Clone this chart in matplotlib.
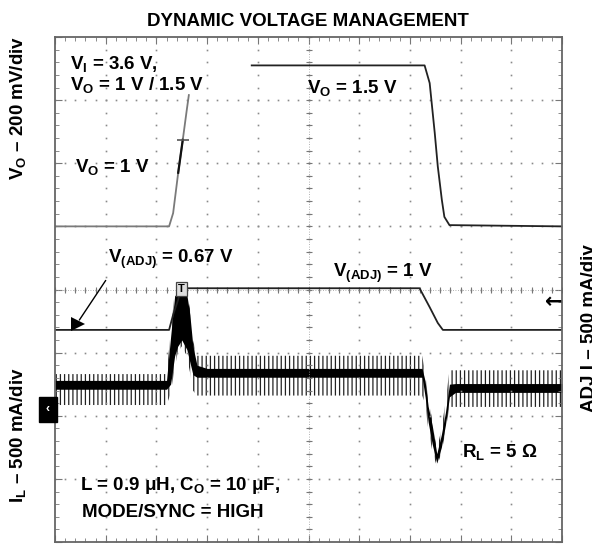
import numpy as np
import matplotlib
matplotlib.use("Agg")
import matplotlib.pyplot as plt

plt.rcParams["font.family"] = ["Liberation Sans", "DejaVu Sans"]
plt.rcParams["font.weight"] = "bold"
plt.rcParams["mathtext.fontset"] = "custom"
plt.rcParams["mathtext.rm"] = "Liberation Sans:bold"
plt.rcParams["mathtext.it"] = "Liberation Sans:bold"
plt.rcParams["mathtext.bf"] = "Liberation Sans:bold"
plt.rcParams["mathtext.default"] = "rm"
plt.rcParams["hatch.linewidth"] = 0.9

# scope traces, in screen divisions (x: 10 div, y: 8 div)
# V_O rising edge (fast part is not captured at the top)
vo_rise_t = [0.00, 2.25, 2.33, 2.43, 2.52, 2.60, 2.64]
vo_rise_v = [5.00, 5.00, 5.21, 5.85, 6.37, 6.85, 7.08]
# V_O at 1.5 V, then falling back to 1 V
vo_fall_t = [3.88, 7.29, 7.39, 7.49, 7.55, 7.63, 7.68, 7.78, 10.0]
vo_fall_v = [7.55, 7.55, 7.27, 6.48, 5.95, 5.42, 5.15, 5.02, 5.00]

# V(ADJ) trace
vadj_t = [0.00, 2.25, 2.33, 2.43, 2.48, 7.19, 7.39, 7.55, 7.65, 10.0]
vadj_v = [3.36, 3.36, 3.60, 3.84, 4.02, 4.02, 3.72, 3.47, 3.36, 3.36]

# inductor current: dense core band and spike envelope
il_t = [0.00, 2.20, 2.28, 2.36, 2.42, 2.50, 2.60, 2.66, 2.72, 2.80, 3.00,
        7.24, 7.30, 7.36, 7.44, 7.53, 7.62, 7.70, 7.78, 7.90, 10.0]
il_hi = [2.56, 2.56, 3.25, 3.90, 3.95, 3.95, 3.92, 3.60, 3.10, 2.80, 2.75,
         2.75, 2.55, 2.15, 1.85, 1.40, 1.70, 2.05, 2.50, 2.51, 2.51]
il_lo = [2.42, 2.42, 2.50, 2.95, 3.10, 3.20, 3.05, 2.85, 2.65, 2.61, 2.61,
         2.61, 2.30, 1.90, 1.55, 1.25, 1.50, 1.85, 2.30, 2.37, 2.37]
il_pk_hi = [2.66, 2.66, 3.30, 3.95, 3.97, 3.97, 3.97, 3.70, 3.20, 2.95, 2.95,
            2.95, 2.70, 2.25, 1.95, 1.45, 1.78, 2.20, 2.72, 2.72, 2.72]
il_pk_lo = [2.17, 2.17, 2.35, 2.75, 3.00, 3.10, 2.95, 2.70, 2.40, 2.32, 2.32,
            2.32, 2.20, 1.80, 1.45, 1.20, 1.40, 1.75, 2.14, 2.14, 2.14]

fig = plt.figure(figsize=(5.92, 5.44), dpi=100)
ax = fig.add_axes([55 / 592, 2 / 544, 507 / 592, 505 / 544])
ax.set_xlim(0, 10)
ax.set_ylim(0, 8)

# graticule: dotted divisions, ticked centre axes
minor_x = np.arange(0, 10.01, 0.2)
minor_y = np.arange(0, 8.01, 0.2)
for gx in range(1, 10):
    ax.plot(np.full_like(minor_y, gx), minor_y, ls="none", marker="s", ms=1.2,
            mew=0, color="#8a8a8a")
for gy in range(1, 8):
    ax.plot(minor_x, np.full_like(minor_x, gy), ls="none", marker="s", ms=1.2,
            mew=0, color="#8a8a8a")
ax.axvline(5, ls=(0, (1, 2)), lw=0.6, color="#999999")
ax.axhline(4, ls=(0, (1, 2)), lw=0.6, color="#999999")
ax.plot(np.full_like(minor_y, 5), minor_y, ls="none", marker="_", ms=5,
        mew=0.8, color="#777777")
ax.plot(minor_x, np.full_like(minor_x, 4), ls="none", marker="|", ms=5,
        mew=0.8, color="#777777")

ax.set_xticks(range(11))
ax.set_yticks(range(9))
ax.set_xticks(minor_x, minor=True)
ax.set_yticks(minor_y, minor=True)
ax.tick_params(which="both", direction="in", top=True, right=True,
               labelbottom=False, labelleft=False, color="#777777")
ax.tick_params(which="major", length=5, width=0.8)
ax.tick_params(which="minor", length=3, width=0.6)
for sp in ax.spines.values():
    sp.set_color("#666666")
    sp.set_linewidth(1.3)

# traces
ax.plot(vo_rise_t, vo_rise_v, color="#7a7a7a", lw=1.3)
ax.plot(vo_rise_t[3:5], vo_rise_v[3:5], color="#111111", lw=1.6)
ax.plot(vo_rise_t[4], vo_rise_v[4], marker="_", ms=9, mew=1.2, color="#555555")
ax.plot(vo_fall_t, vo_fall_v, color="#222222", lw=1.3)
ax.plot(vadj_t, vadj_v, color="#222222", lw=1.3)

ax.fill_between(il_t, il_pk_lo, il_pk_hi, facecolor="none", edgecolor="#222222",
                hatch="||||", linewidth=0)
ax.fill_between(il_t, il_lo, il_hi, color="black", lw=0)

# trigger / channel markers
ax.text(il_t[5], il_pk_hi[5] + 0.04, "T", fontsize=8, ha="center", va="center",
        color="black", bbox=dict(boxstyle="square,pad=0.2", fc="#dddddd",
                                 ec="#444444", lw=0.9))
ax.text(-0.1, 2.1, "‹", fontsize=9, color="white", ha="right", va="center",
        clip_on=False, bbox=dict(boxstyle="square,pad=0.55", fc="black", ec="black"))
ax.text(9.83, 3.80, "←", fontsize=15, ha="center", va="center", color="black",
        family="DejaVu Sans")

# annotations
fs = 13.5
ax.text(0.30, 7.50, "V$_\\mathrm{I}$ = 3.6 V,", fontsize=fs, va="baseline")
ax.text(0.30, 7.16, "V$_\\mathrm{O}$ = 1 V / 1.5 V", fontsize=fs, va="baseline")
ax.text(0.39, 5.86, "V$_\\mathrm{O}$ = 1 V", fontsize=fs, va="baseline")
ax.text(4.97, 7.12, "V$_\\mathrm{O}$ = 1.5 V", fontsize=fs, va="baseline")
ax.text(1.04, 4.42, "V$_\\mathrm{(ADJ)}$ = 0.67 V", fontsize=fs, va="baseline")
ax.text(5.48, 4.20, "V$_\\mathrm{(ADJ)}$ = 1 V", fontsize=fs, va="baseline")
ax.text(8.02, 1.35, "R$_\\mathrm{L}$ = 5 Ω", fontsize=fs, va="baseline")
ax.text(0.49, 0.82, "L = 0.9 μH, C$_\\mathrm{O}$ = 10 μF,", fontsize=fs, va="baseline")
ax.text(0.53, 0.40, "MODE/SYNC = HIGH", fontsize=fs, va="baseline")

ax.annotate("", xy=(0.45, 3.48), xytext=(1.03, 4.18),
            arrowprops=dict(arrowstyle="-", color="black", lw=1.0))
ax.plot(0.45, 3.45, marker=">", ms=10, color="black", mew=0)

fig.text(308 / 592, 1 - 26 / 544, "DYNAMIC VOLTAGE MANAGEMENT", fontsize=13.5,
         ha="center", va="baseline")
fig.text(18 / 592, 1 - 108 / 544, "V$_\\mathrm{O}$ – 200 mV/div", fontsize=13.5,
         rotation=90, ha="center", va="center")
fig.text(18 / 592, 1 - 435 / 544, "I$_\\mathrm{L}$ – 500 mA/div", fontsize=13.5,
         rotation=90, ha="center", va="center")
fig.text(589 / 592, 1 - 328 / 544, "ADJ I – 500 mA/div", fontsize=13.5,
         rotation=90, ha="center", va="center")

fig.savefig("out.png", dpi=100)
